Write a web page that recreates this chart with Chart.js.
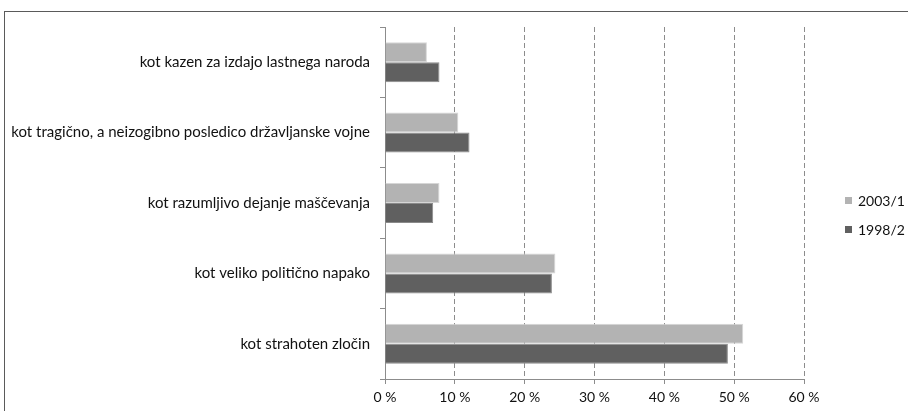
<!DOCTYPE html>
<html>
<head>
<meta charset="utf-8">
<script src="https://cdn.jsdelivr.net/npm/chart.js@4/dist/chart.umd.min.js"></script>
<style>
  html, body { margin: 0; padding: 0; background: #fff; overflow: hidden; }
  #wrap { position: relative; width: 908px; height: 411px; }
  #frame {
    position: absolute; left: 4px; top: 11px; width: 1000px; height: 1000px;
    border-left: 1px solid #5a5a5a; border-top: 1px solid #5a5a5a;
  }
  #chart { position: absolute; left: 0; top: 0; }
  #legend { position: absolute; left: 845px; top: 192px; font: 14px Lato, sans-serif; color: #111; }
  .leg-item { height: 29px; display: flex; align-items: flex-start; }
  .leg-box { width: 7px; height: 7px; margin-top: 5px; margin-right: 6px; }
</style>
</head>
<body>
<div id="wrap">
  <div id="frame"></div>
  <canvas id="chart" width="908" height="411"></canvas>
  <div id="legend"></div>
</div>
<script>
  const categories = [
    "kot kazen za izdajo lastnega naroda",
    "kot tragično, a neizogibno posledico državljanske vojne",
    "kot razumljivo dejanje maščevanja",
    "kot veliko politično napako",
    "kot strahoten zločin"
  ];
  const seriesNames = ["2003/1", "1998/2"];
  const values2003 = [6.0, 10.5, 7.8, 24.4, 51.3];
  const values1998 = [7.8, 12.1, 6.9, 23.9, 49.1];
  const xTicks = [0, 10, 20, 30, 40, 50, 60];

  const colors = ["#b3b3b3", "#606060"];
  const borders = ["#d6d6d6", "#8a8a8a"];
  const font = { family: "Lato, sans-serif", size: 15 };

  new Chart(document.getElementById("chart"), {
    type: "bar",
    data: {
      labels: categories,
      datasets: [
        { label: seriesNames[0], data: values2003, backgroundColor: colors[0], borderColor: borders[0], borderWidth: 1 },
        { label: seriesNames[1], data: values1998, backgroundColor: colors[1], borderColor: borders[1], borderWidth: 1 }
      ]
    },
    options: {
      indexAxis: "y",
      responsive: false,
      animation: false,
      categoryPercentage: 0.568,
      barPercentage: 1.0,
      layout: { padding: { left: 5, top: 27, right: 104, bottom: 0 } },
      plugins: { legend: { display: false }, tooltip: { enabled: false } },
      scales: {
        x: {
          min: 0, max: 60,
          afterBuildTicks: (s) => { s.ticks = xTicks.map(v => ({ value: v })); },
          afterFit: (s) => { s.height = 32; },
          border: { display: true, color: "#8c8c8c", width: 1, dash: [5, 3] },
          grid: {
            color: "#8c8c8c", lineWidth: 1,
            drawTicks: true, tickLength: 5, tickColor: "#8c8c8c", tickBorderDash: []
          },
          ticks: { color: "#111", font: { family: font.family, size: 14 }, padding: 5, callback: (v) => v + " %" }
        },
        y: {
          afterFit: (s) => { s.width = 380; },
          border: { display: true, color: "#8c8c8c", width: 1 },
          grid: { offset: true, drawOnChartArea: false, drawTicks: true, tickLength: 5, color: "#8c8c8c" },
          ticks: { color: "#111", font, padding: 10 }
        }
      }
    }
  });

  const legend = document.getElementById("legend");
  seriesNames.forEach((name, i) => {
    const item = document.createElement("div");
    item.className = "leg-item";
    item.innerHTML = '<span class="leg-box" style="background:' + colors[i] + '"></span><span>' + name + '</span>';
    legend.appendChild(item);
  });
</script>
</body>
</html>
